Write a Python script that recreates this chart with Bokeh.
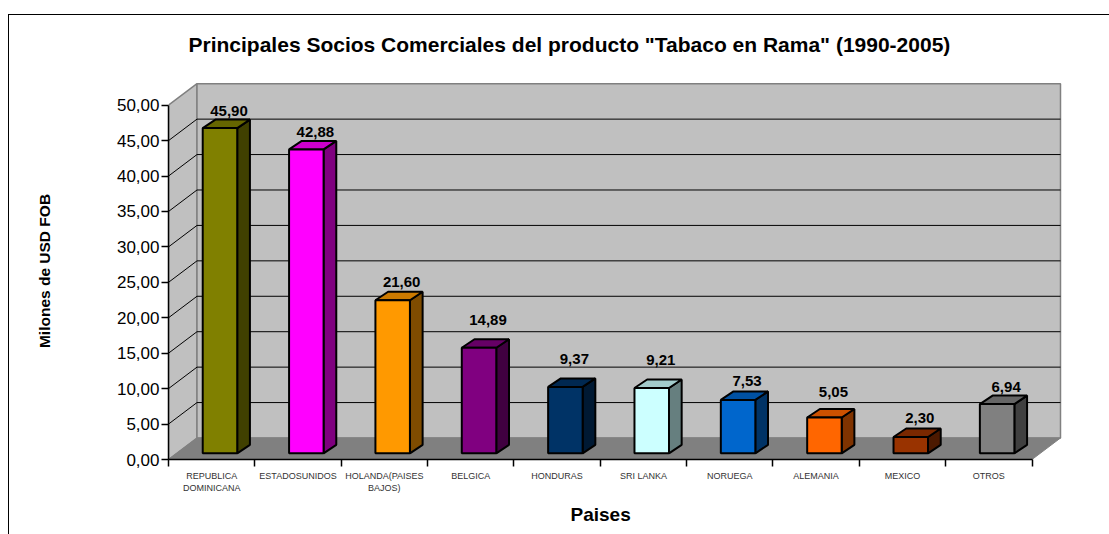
from bokeh.plotting import figure
from bokeh.embed import file_html
from bokeh.resources import INLINE
from bokeh.models import FixedTicker, Title, Range1d, InlineStyleSheet
from bokeh.core.properties import value

categories = ["REPUBLICA\nDOMINICANA", "ESTADOSUNIDOS", "HOLANDA(PAISES\nBAJOS)", "BELGICA",
              "HONDURAS", "SRI LANKA", "NORUEGA", "ALEMANIA", "MEXICO", "OTROS"]
values = [45.90, 42.88, 21.60, 14.89, 9.37, 9.21, 7.53, 5.05, 2.30, 6.94]
value_labels = ["45,90", "42,88", "21,60", "14,89", "9,37", "9,21", "7,53", "5,05", "2,30", "6,94"]
bar_colors = ["#808000", "#ff00ff", "#ff9900", "#800080", "#003366",
              "#ccffff", "#0066cc", "#ff6600", "#993300", "#808080"]
y_ticks = [0, 5, 10, 15, 20, 25, 30, 35, 40, 45, 50]
label_lift_px = [4, 4, 5, 14, 14, 15, 5, 12, 6, 4]

PX_X = 86.35   # pixels per category
PX_Y = 7.086   # pixels per value unit
FONT = "Liberation Sans"
WALL_DX, WALL_DY = 28.5 / PX_X, 21.5 / PX_Y
BAR_X0, BAR_Y0 = 8.3 / PX_X, 6.2 / PX_Y
BAR_W = 34.5 / PX_X
BAR_DX, BAR_DY = 12.7 / PX_X, 8.5 / PX_Y
N = len(categories)


def shade(c, f):
    return "#" + "".join(f"{int(int(c[i:i+2], 16) * f):02x}" for i in (1, 3, 5))


frame_css = InlineStyleSheet(css="""
:host::after {
  content: "";
  position: absolute;
  left: 8px;
  top: 14px;
  width: 1101px;
  height: 520px;
  box-sizing: border-box;
  border-left: 1.5px solid #000000;
  border-top: 1.5px solid #000000;
  pointer-events: none;
  z-index: 10;
}
""")

p = figure(width=1109, height=534, output_backend="svg", toolbar_location=None,
           x_range=Range1d(0, 895 / PX_X), y_range=Range1d(0, 377 / PX_Y),
           min_border_left=168, min_border_right=46, min_border_top=82, min_border_bottom=75,
           background_fill_color="#ffffff", border_fill_color="#ffffff", outline_line_color=None,
           stylesheets=[frame_css])
p.grid.visible = False

# walls and floor
p.patch([0, WALL_DX, WALL_DX, 0], [0, WALL_DY, 50 + WALL_DY, 50],
        fill_color="#c0c0c0", line_color="#808080", line_width=1.5)
p.patch([WALL_DX, N + WALL_DX, N + WALL_DX, WALL_DX], [WALL_DY, WALL_DY, 50 + WALL_DY, 50 + WALL_DY],
        fill_color="#c0c0c0", line_color="#808080", line_width=1.5)
p.patch([0, N, N + WALL_DX, WALL_DX], [0, 0, WALL_DY, WALL_DY],
        fill_color="#808080", line_color="#808080", line_width=1)

# grid lines on left and back walls
gt = y_ticks[1:-1]
p.multi_line([[0, WALL_DX, N + WALL_DX] for _ in gt], [[t, t + WALL_DY, t + WALL_DY] for t in gt],
             line_color="#000000", line_width=1)

# bars
for i, (v, c) in enumerate(zip(values, bar_colors)):
    x0 = i + 0.5 - BAR_W / 2 + BAR_X0
    x1 = x0 + BAR_W
    y0 = BAR_Y0
    y1 = BAR_Y0 + v
    p.patch([x1, x1 + BAR_DX, x1 + BAR_DX, x1], [y0, y0 + BAR_DY, y1 + BAR_DY, y1],
            fill_color=shade(c, 0.5), line_color="#000000", line_width=2)
    p.patch([x0, x0 + BAR_DX, x1 + BAR_DX, x1], [y1, y1 + BAR_DY, y1 + BAR_DY, y1],
            fill_color=shade(c, 0.8), line_color="#000000", line_width=2)
    p.patch([x0, x1, x1, x0], [y0, y0, y1, y1],
            fill_color=c, line_color="#000000", line_width=2)

# value labels
p.text([i + 0.5 + BAR_X0 + 9 / PX_X for i in range(N)],
       [v + BAR_Y0 + BAR_DY + l / PX_Y for v, l in zip(values, label_lift_px)],
       text=value_labels, text_font=value(FONT), text_font_style="bold", text_font_size="15px",
       text_align="center", text_baseline="bottom", text_color="#000000")

# axes
ya = p.yaxis[0]
ya.bounds = (0, 50)
ya.ticker = FixedTicker(ticks=y_ticks)
ya.major_label_overrides = {t: f"{t},00" for t in y_ticks}
ya.major_label_text_font = FONT
ya.major_label_text_font_size = "17px"
ya.major_label_text_color = "#000000"
ya.major_label_standoff = 2
ya.major_tick_in = 0
ya.major_tick_out = 7
ya.major_tick_line_color = "#000000"
ya.major_tick_line_width = 1.5
ya.minor_tick_line_color = None
ya.axis_line_color = "#000000"
ya.axis_line_width = 1.5
ya.axis_label = "Milones de USD FOB"
ya.axis_label_text_font = FONT
ya.axis_label_text_font_size = "15.5px"
ya.axis_label_text_font_style = "bold"
ya.axis_label_text_color = "#000000"
ya.axis_label_standoff = 61

xa = p.xaxis[0]
xa.bounds = (0, N)
centers = [i + 0.5 for i in range(N)]
xa.ticker = FixedTicker(ticks=centers, minor_ticks=list(range(N + 1)))
xa.major_label_overrides = dict(zip(centers, categories))
xa.major_label_orientation = "horizontal"
xa.major_label_text_font = FONT
xa.major_label_text_font_size = "9px"
xa.major_label_text_color = "#333333"
xa.major_label_standoff = 4
xa.major_tick_line_color = None
xa.minor_tick_in = 0
xa.minor_tick_out = 7
xa.minor_tick_line_color = "#000000"
xa.minor_tick_line_width = 1.5
xa.axis_line_color = "#000000"
xa.axis_line_width = 1.5

p.add_layout(Title(text="Paises", text_font=FONT, text_font_size="19px",
                   text_font_style="bold", text_color="#000000", align="left",
                   offset=402, standoff=12), "below")

p.add_layout(Title(text='Principales Socios Comerciales del producto "Tabaco en Rama" (1990-2005)',
                   text_font=FONT, text_font_size="21px", text_font_style="bold",
                   text_color="#000000", align="left", offset=20, standoff=54), "above")

open("out.html", "w").write(file_html(p, INLINE))
